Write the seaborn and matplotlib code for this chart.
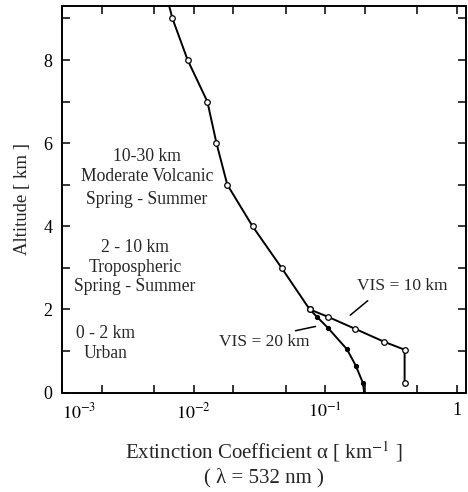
import matplotlib
matplotlib.use("Agg")
import matplotlib.pyplot as plt
import seaborn as sns
import pandas as pd
import numpy as np

# ---- data ----
main_alt = [10, 9, 8, 7, 6, 5, 4, 3, 2]
main_ext = [0.0057, 0.0069, 0.0090, 0.0127, 0.0149, 0.0180, 0.0280, 0.0465, 0.076]

vis10_alt = [2, 1.82, 1.53, 1.22, 1.03, 0.24]
vis10_ext = [0.076, 0.105, 0.169, 0.28, 0.40, 0.40]

vis20_alt = [2, 1.82, 1.55, 1.04, 0.65, 0.23, 0.0]
vis20_ext = [0.076, 0.0865, 0.105, 0.146, 0.170, 0.193, 0.197]

xtick_vals = [1e-3, 1e-2, 1e-1, 1]
xtick_labels = [r"$10^{-3}$", r"$10^{-2}$", r"$10^{-1}$", "1"]
ytick_vals = [0, 2, 4, 6, 8]

region_texts = [
    (0.210, 5.68, "10-30 km"),
    (0.210, 5.19, "Moderate Volcanic"),
    (0.210, 4.65, "Spring - Summer"),
    (0.181, 3.49, "2 - 10 km"),
    (0.181, 3.01, "Tropospheric"),
    (0.181, 2.55, "Spring - Summer"),
    (0.109, 1.43, "0 - 2 km"),
    (0.109, 0.935, "Urban"),
]

sns.set_theme(style="ticks")
plt.rcParams["font.family"] = ["Liberation Serif", "DejaVu Serif"]
plt.rcParams["mathtext.fontset"] = "stix"

fig = plt.figure(figsize=(4.68, 4.92), dpi=100)
ax = fig.add_axes([0.1325, 0.2022, 0.8632, 0.7856])

df_main = pd.DataFrame({"ext": main_ext, "alt": main_alt})
df10 = pd.DataFrame({"ext": vis10_ext, "alt": vis10_alt})
df20 = pd.DataFrame({"ext": vis20_ext, "alt": vis20_alt})

sns.lineplot(data=df20, x="ext", y="alt", sort=False, estimator=None, ax=ax,
             color="black", lw=1.4, marker="o", markersize=3,
             markerfacecolor="black", markeredgecolor="black",
             markevery=[1, 2, 3, 4, 5])
sns.lineplot(data=df10, x="ext", y="alt", sort=False, estimator=None, ax=ax,
             color="black", lw=1.4, marker="o", markersize=4,
             markerfacecolor="white", markeredgecolor="black", markeredgewidth=0.9)
sns.lineplot(data=df_main, x="ext", y="alt", sort=False, estimator=None, ax=ax,
             color="black", lw=1.4, marker="o", markersize=4,
             markerfacecolor="white", markeredgecolor="black", markeredgewidth=0.9)

ax.set_xscale("log")
ax.set_xlim(1e-3, 1.17)
ax.set_ylim(0, 9.3)

ax.set_xticks(xtick_vals)
ax.set_xticklabels(xtick_labels)
ax.xaxis.set_minor_locator(matplotlib.ticker.FixedLocator(
    [2e-3, 5e-3, 2e-2, 5e-2, 2e-1, 5e-1]))
ax.xaxis.set_minor_formatter(matplotlib.ticker.NullFormatter())
ax.set_yticks(ytick_vals)
ax.yaxis.set_minor_locator(matplotlib.ticker.FixedLocator([1, 3, 5, 7, 9]))

ax.tick_params(which="both", direction="in", top=True, right=True,
               colors="black", labelsize=13, width=1.1)
ax.tick_params(which="major", length=6, pad=7)
ax.tick_params(which="minor", length=6)
ax.get_xticklabels()[0].set_horizontalalignment("left")
for s in ax.spines.values():
    s.set_linewidth(1.4)
    s.set_color("black")

ax.set_xlabel("Extinction Coefficient α [ km$^{-1}$ ]\n( λ = 532 nm )",
              fontsize=15, labelpad=12, linespacing=1.3)
ax.set_ylabel("Altitude [ km ]", fontsize=13.5, labelpad=9)

ytr = ax.get_yaxis_transform()
for xf, yv, t in region_texts:
    ax.text(xf, yv, t, transform=ytr, ha="center", va="center", fontsize=12.7)

ax.text(0.381, 2.555, "VIS = 10 km", ha="center", va="center", fontsize=12.5)
ax.plot([0.210, 0.1545], [2.21, 1.86], color="black", lw=1.1)
ax.text(0.0341, 1.216, "VIS = 20 km", ha="center", va="center", fontsize=12.5)
ax.plot([0.0593, 0.0843], [1.487, 1.59], color="black", lw=1.1)

fig.savefig("out.png", dpi=100)
